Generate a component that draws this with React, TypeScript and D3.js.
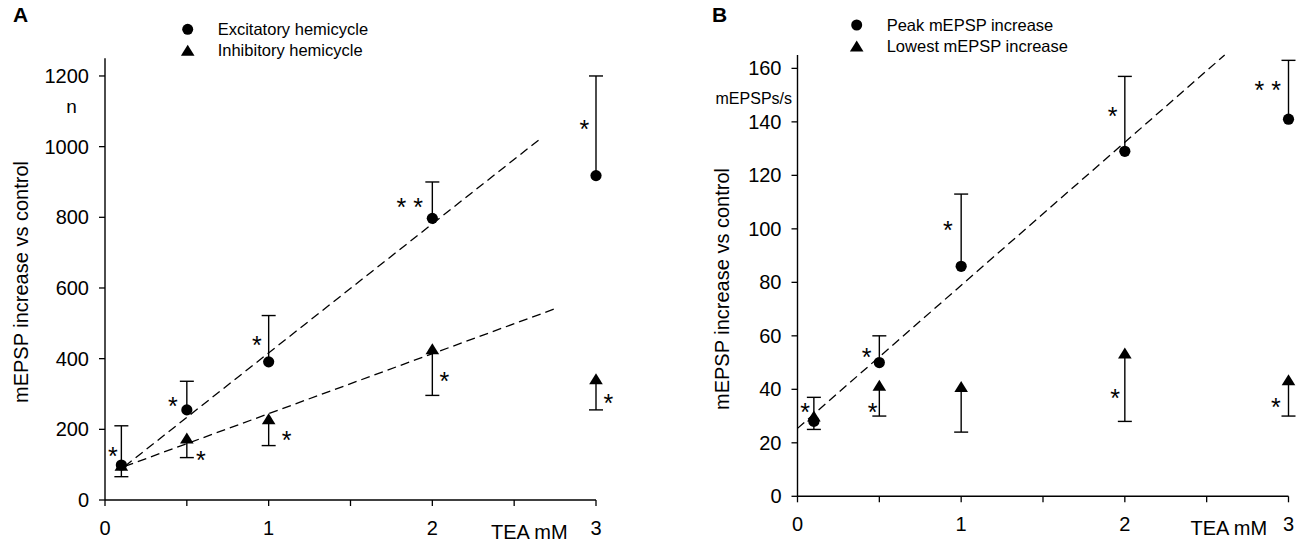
import * as d3 from "d3";

// Panel A: mEPSP increase vs control, excitatory / inhibitory hemicycle
const teaA = [0.1, 0.5, 1, 2, 3];
const excitatory = [99, 255, 391, 797, 918];
const excitatoryUpper = [210, 336, 522, 900, 1200];
const inhibitory = [98, 175, 230, 428, 343];
const inhibitoryLower = [66, 120, 154, 296, 255];
const excitatoryFit: [number, number][] = [[0.12, 95], [2.67, 1026]];
const inhibitoryFit: [number, number][] = [[0.12, 95], [2.76, 543]];
const starsA = [
  { x: 0.048, y: 141, t: "*" },
  { x: 0.414, y: 281, t: "*" },
  { x: 0.586, y: 130, t: "*" },
  { x: 0.928, y: 455, t: "*" },
  { x: 1.11, y: 184, t: "*" },
  { x: 1.862, y: 844, t: "* *" },
  { x: 2.074, y: 351, t: "*" },
  { x: 2.929, y: 1066, t: "*" },
  { x: 3.076, y: 289, t: "*" },
];
const ticksA = [0, 200, 400, 600, 800, 1000, 1200];

// Panel B: mEPSPs/s, peak / lowest increase
const teaB = [0.1, 0.5, 1, 2, 3];
const peak = [28, 50, 86, 129, 141];
const peakUpper = [37, 60, 113, 157, 163];
const lowest = [30, 41.5, 41, 53.5, 43.5];
const lowestLower = [25, 30, 24, 28, 30];
const peakFit: [number, number][] = [[0, 25.4], [2.61, 165]];
const starsB = [
  { x: 0.046, y: 33.4, t: "*" },
  { x: 0.423, y: 54.3, t: "*" },
  { x: 0.459, y: 33.4, t: "*" },
  { x: 0.919, y: 101.7, t: "*" },
  { x: 1.926, y: 144.3, t: "*" },
  { x: 1.94, y: 38.7, t: "*" },
  { x: 2.873, y: 153.9, t: "* *" },
  { x: 2.923, y: 35.3, t: "*" },
];
const ticksB = [0, 20, 40, 60, 80, 100, 120, 140, 160];

const xTicks = [0, 0.5, 1, 1.5, 2, 2.5, 3];
const xLabels = [0, 1, 2, 3];

const FONT = "'Liberation Sans', Arial, Helvetica, sans-serif";
const tri = "M0,-5.6L6.8,5.4L-6.8,5.4Z";
const STAR = 25;

type PanelProps = {
  letter: string;
  letterX: number;
  x: d3.ScaleLinear<number, number>;
  y: d3.ScaleLinear<number, number>;
  yTicks: number[];
  tea: number[];
  circ: number[];
  circUpper: number[];
  trig: number[];
  trigLower: number[];
  fits: [number, number][][];
  stars: { x: number; y: number; t: string }[];
  legend: [string, string];
  legendX: number;
  legendY: number;
  titleX: number;
  titleY: number;
  teaOffset: number;
};

function Panel(p: PanelProps) {
  const { x, y } = p;
  const x0 = x.range()[0];
  const y0 = y.range()[0];
  const line = d3.line<[number, number]>().x(d => x(d[0])).y(d => y(d[1]));
  return (
    <g fontFamily={FONT} fill="#000">
      <text x={p.letterX} y={22} fontSize={21} fontWeight="bold">{p.letter}</text>

      {/* legend */}
      <circle cx={p.legendX} cy={p.legendY} r={5.5} />
      <path d={tri} transform={`translate(${p.legendX},${p.legendY + 21})`} />
      <text x={p.legendX + 30} y={p.legendY + 5.5} fontSize={16.5}>{p.legend[0]}</text>
      <text x={p.legendX + 30} y={p.legendY + 26.5} fontSize={16.5}>{p.legend[1]}</text>

      {/* axes */}
      <line x1={x0} x2={x0} y1={y0} y2={y.range()[1]} stroke="#000" strokeWidth={1.4} />
      <line x1={x0} x2={x.range()[1]} y1={y0} y2={y0} stroke="#000" strokeWidth={1.4} />
      {p.yTicks.map(t => (
        <g key={t}>
          <line x1={x0 - 6} x2={x0} y1={y(t)} y2={y(t)} stroke="#000" strokeWidth={1.3} />
          <text x={x0 - 16} y={y(t)} fontSize={20} textAnchor="end" dominantBaseline="central">{t}</text>
        </g>
      ))}
      {xTicks.map(t => (
        <line key={t} x1={x(t)} x2={x(t)} y1={y0} y2={y0 + 6} stroke="#000" strokeWidth={1.3} />
      ))}
      {xLabels.map(t => (
        <text key={t} x={x(t)} y={y0 + 35} fontSize={20} textAnchor="middle">{t}</text>
      ))}
      <text x={x(3) - p.teaOffset} y={y0 + 39} fontSize={20}>TEA mM</text>
      <text transform={`translate(${p.titleX},${p.titleY}) rotate(-90)`} fontSize={20} textAnchor="middle">
        mEPSP increase vs control
      </text>

      {/* error bars */}
      {p.tea.map((t, i) => (
        <g key={`c${t}`} stroke="#000" strokeWidth={1.4}>
          <line x1={x(t)} x2={x(t)} y1={y(p.circ[i])} y2={y(p.circUpper[i])} />
          <line x1={x(t) - 7} x2={x(t) + 7} y1={y(p.circUpper[i])} y2={y(p.circUpper[i])} />
          <line x1={x(t)} x2={x(t)} y1={y(p.trig[i])} y2={y(p.trigLower[i])} />
          <line x1={x(t) - 7} x2={x(t) + 7} y1={y(p.trigLower[i])} y2={y(p.trigLower[i])} />
        </g>
      ))}

      {/* fit lines */}
      {p.fits.map((f, i) => (
        <path key={i} d={line(f) ?? ""} fill="none" stroke="#000" strokeWidth={1.3} strokeDasharray="9,5" />
      ))}

      {/* markers */}
      {p.tea.map((t, i) => (
        <g key={`m${t}`}>
          <circle cx={x(t)} cy={y(p.circ[i])} r={5.6} />
          <path d={tri} transform={`translate(${x(t)},${y(p.trig[i])})`} />
        </g>
      ))}

      {/* significance */}
      {p.stars.map((s, i) => (
        <text key={i} x={x(s.x)} y={y(s.y) + STAR * 0.58} fontSize={STAR} textAnchor="middle">{s.t}</text>
      ))}
    </g>
  );
}

export default function App() {
  const xA = d3.scaleLinear().domain([0, 3]).range([105, 596]);
  const yA = d3.scaleLinear().domain([0, 1250]).range([500, 58.3]);
  const xB = d3.scaleLinear().domain([0, 3]).range([797.5, 1288.5]);
  const yB = d3.scaleLinear().domain([0, 165]).range([496.3, 55]);

  return (
    <svg width={1300} height={547} style={{ position: "absolute", left: 0, top: 0, background: "#fff" }}>
      <rect width={1300} height={547} fill="#fff" />
      <Panel
        letter="A" letterX={13} x={xA} y={yA} yTicks={ticksA}
        tea={teaA} circ={excitatory} circUpper={excitatoryUpper}
        trig={inhibitory} trigLower={inhibitoryLower}
        fits={[excitatoryFit, inhibitoryFit]} stars={starsA}
        legend={["Excitatory hemicycle", "Inhibitory hemicycle"]}
        legendX={187.7} legendY={29.3} titleX={28} titleY={282} teaOffset={105}
      />
      <text x={71.5} y={113.3} fontSize={19} textAnchor="middle" fontFamily={FONT}>n</text>
      <Panel
        letter="B" letterX={712} x={xB} y={yB} yTicks={ticksB}
        tea={teaB} circ={peak} circUpper={peakUpper}
        trig={lowest} trigLower={lowestLower}
        fits={[peakFit]} stars={starsB}
        legend={["Peak mEPSP increase", "Lowest mEPSP increase"]}
        legendX={856.7} legendY={25} titleX={729} titleY={289} teaOffset={98}
      />
      <text x={792} y={104} fontSize={16} textAnchor="end" fontFamily={FONT}>mEPSPs/s</text>
    </svg>
  );
}
